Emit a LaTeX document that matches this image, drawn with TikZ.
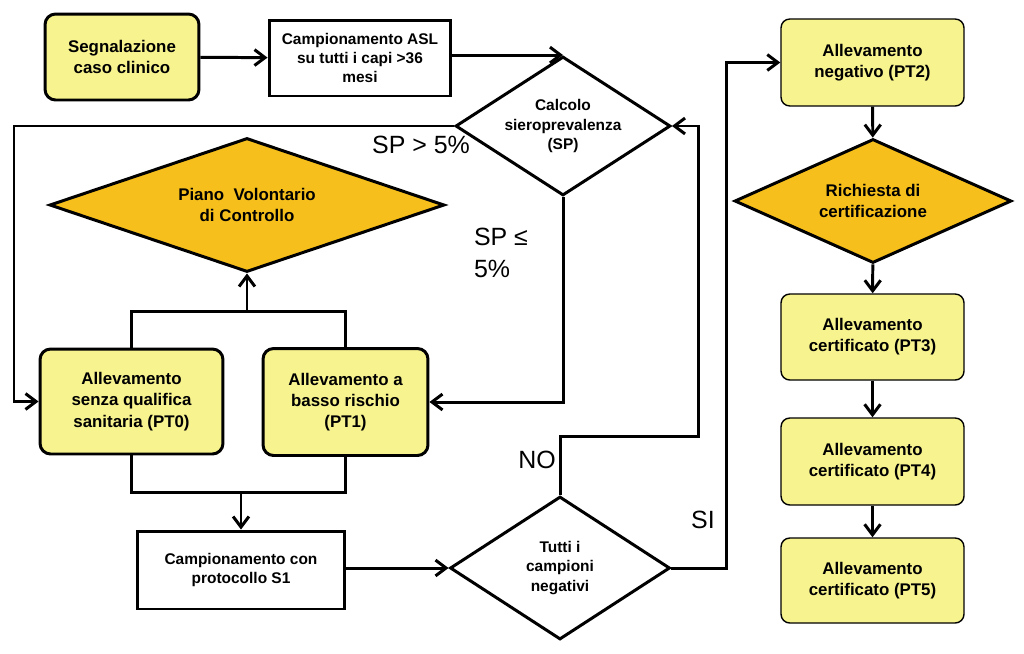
\documentclass[tikz,border=0pt]{standalone}
\usepackage{fontspec}
\setmainfont{Liberation Sans}
\usepackage{tikz}
\usetikzlibrary{shapes,arrows.meta}
\usetikzlibrary{calc}
\definecolor{boxyellow}{RGB}{247,243,143}
\definecolor{boxgold}{RGB}{246,191,28}

\begin{document}
\begin{tikzpicture}[x=0.02cm, y=-0.02cm,
	big_text/.style={font=\fontsize{9.6}{12.1}\selectfont\bfseries, align=center},
	small_text/.style={font=\fontsize{8.8}{11}\selectfont\bfseries, align=center},
	yellow_node/.style={big_text, rectangle, rounded corners=6pt, draw, line width=1.7pt, fill=boxyellow, inner sep=1pt},
	pt_node/.style={big_text, rectangle, rounded corners=5pt, draw, line width=0.8pt, fill=boxyellow, minimum width=3.66cm, inner sep=1pt},
	white_node/.style={small_text, rectangle, draw, line width=1.7pt, fill=white, inner sep=1pt},
	gold_diamond/.style={big_text, diamond, draw, line width=1.7pt, fill=boxgold, inner sep=0pt},
	white_diamond/.style={small_text, diamond, draw, line width=1.7pt, fill=white, inner sep=0pt},
	link/.style={line width=1.7pt},
	arr/.style={link, -{Straight Barb[length=6pt,width=9pt]}},
	cond/.style={font=\fontsize{14.2}{18}\selectfont}]
				\useasboundingbox (0,0) rectangle (1024,653);
				
				% left column
				\node[yellow_node, minimum width=3.08cm, minimum height=1.72cm] (seg) at (122,57) {Segnalazione\\caso clinico};
				\node[white_node, minimum width=3.64cm, minimum height=1.52cm] (asl) at (360,58) {Campionamento ASL\\su tutti i capi >36\\mesi};
				\node[gold_diamond, shape aspect=2.95, minimum width=7.9cm, minimum height=2.68cm] (piano) at (247,205) {Piano\ \ Volontario\\di Controllo};
				\node[yellow_node, minimum width=3.66cm, minimum height=2.1cm] (pt0) at (131.5,401.5) {Allevamento\\senza qualifica\\sanitaria (PT0)};
				\node[yellow_node, minimum width=3.3cm, minimum height=2.14cm] (pt1) at (345.5,402) {Allevamento a\\basso rischio\\(PT1)};
				\node[white_node, minimum width=4.16cm, minimum height=1.56cm] (s1) at (241,570) {Campionamento con\\protocollo S1};
				
				% decisions
				\node[white_diamond, shape aspect=1.55, minimum width=4.3cm, minimum height=2.78cm] (calc) at (563,126) {Calcolo\\sieroprevalenza\\(SP)};
				\node[white_diamond, shape aspect=1.54, minimum width=4.4cm, minimum height=2.86cm] (tutti) at (560,568) {Tutti i\\campioni\\negativi};
				
				% right column
				\node[pt_node, minimum height=1.74cm] (pt2) at (872.5,62.5) {Allevamento\\negativo (PT2)};
				\node[gold_diamond, shape aspect=2.23, minimum width=5.54cm, minimum height=2.48cm] (rich) at (873,201) {Richiesta di\\certificazione};
				\node[pt_node, minimum height=1.72cm] (pt3) at (872.5,337) {Allevamento\\certificato (PT3)};
				\node[pt_node, minimum height=1.74cm] (pt4) at (872.5,461.5) {Allevamento\\certificato (PT4)};
				\node[pt_node, minimum height=1.7cm] (pt5) at (872.5,580.5) {Allevamento\\certificato (PT5)};
				
				\coordinate (lft) at (14,300);
				\coordinate (jtop) at (247,311);
				\coordinate (jbot) at (241,492);
				\coordinate (nobend) at (698,436);
				\coordinate (sibend) at (726,300);
				
				\draw[arr] (seg) -- (asl);
				\draw[arr] (asl.east |- calc.north) -- (calc.north);
				\draw[arr] (calc.west) -| (lft) |- (pt0.west);
				\draw[arr] (calc.south) |- (pt1.east);
				\draw[link] (pt0.north) |- (jtop) -| (pt1.north);
				\draw[arr] (jtop) -- (piano.south);
				\draw[link] (pt0.south) |- (jbot) -| (pt1.south);
				\draw[arr] (jbot) -- (s1.north);
				\draw[arr] (tutti.west -| s1.east) -- (tutti.west);
				\draw[arr] (tutti.north) |- (nobend) |- (calc.east);
				\draw[arr] (tutti.east) -| (sibend) |- (pt2.west);
				\draw[arr] (pt2) -- (rich);
				\draw[arr] (rich) -- (pt3);
				\draw[arr] (pt3) -- (pt4);
				\draw[arr] (pt4) -- (pt5);
				
				\node[cond] (gt) at (421,145) {SP > 5\%};
				\node[cond, align=left] (le) at (501,253) {SP ≤\\5\%};
				\node[cond] (no) at (537,460) {NO};
				\node[cond] (si) at (703,520) {SI};
			\end{tikzpicture}
\end{document}
